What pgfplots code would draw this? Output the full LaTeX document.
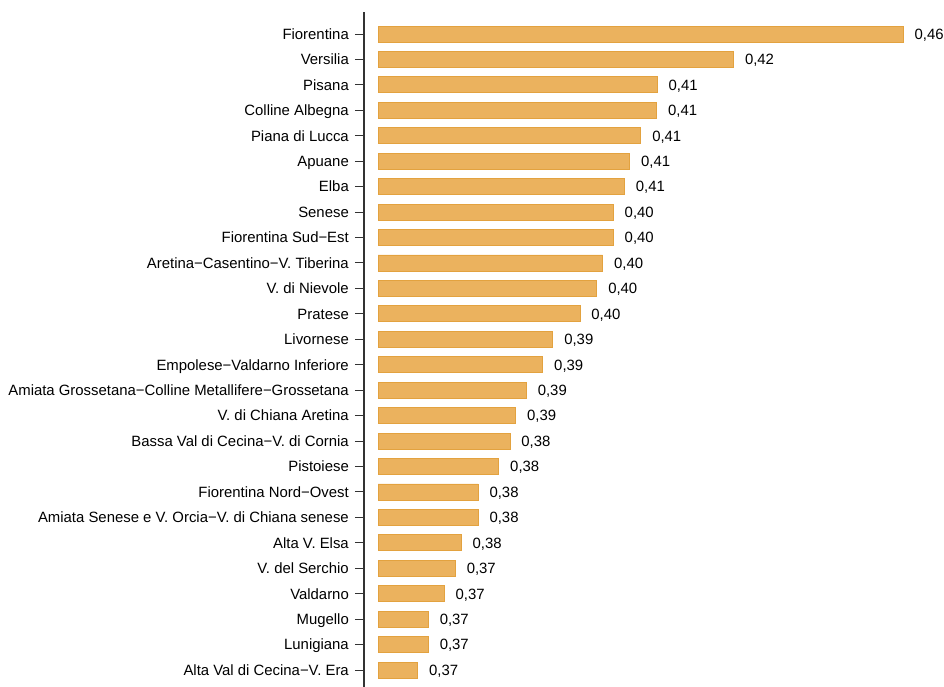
\documentclass[border=0pt]{standalone}
\usepackage{fontspec}
\setmainfont{Liberation Sans}
\usepackage{pgfplots}
\usepackage{pgfplotstable}
\pgfplotsset{compat=1.18}
\definecolor{barfill}{HTML}{EBB25E}
\definecolor{bardraw}{HTML}{E3A23F}
\pgfplotstableread{
idx val lab
0 0.4591 0,46
1 0.4271 0,42
2 0.4127 0,41
3 0.4126 0,41
4 0.4096 0,41
5 0.4075 0,41
6 0.4065 0,41
7 0.4044 0,40
8 0.4044 0,40
9 0.4024 0,40
10 0.4013 0,40
11 0.3981 0,40
12 0.3930 0,39
13 0.3911 0,39
14 0.3880 0,39
15 0.3860 0,39
16 0.3849 0,38
17 0.3828 0,38
18 0.3789 0,38
19 0.3789 0,38
20 0.3757 0,38
21 0.3746 0,37
22 0.3725 0,37
23 0.3695 0,37
24 0.3695 0,37
25 0.3675 0,37
}\data
\begin{document}
\begin{tikzpicture}
\useasboundingbox (0,0) rectangle (944bp,687bp);
\begin{axis}[
 at={(364bp,0bp)}, anchor=south west,
 scale only axis, width=539bp, height=675bp,
 xmin=-0.002642, xmax=0.09906,
 ymin=-0.865, ymax=25.668, y dir=reverse,
 axis x line=none, axis y line=left,
 axis line style={-, line width=1.1bp, color=black!80},
 ytick={0,...,25},
 yticklabels={Fiorentina,Versilia,Pisana,Colline Albegna,Piana di Lucca,Apuane,Elba,Senese,Fiorentina Sud−Est,Aretina−Casentino−V. Tiberina,V. di Nievole,Pratese,Livornese,Empolese−Valdarno Inferiore,Amiata Grossetana−Colline Metallifere−Grossetana,V. di Chiana Aretina,Bassa Val di Cecina−V. di Cornia,Pistoiese,Fiorentina Nord−Ovest,Amiata Senese e V. Orcia−V. di Chiana senese,Alta V. Elsa,V. del Serchio,Valdarno,Mugello,Lunigiana,Alta Val di Cecina−V. Era},
 tick align=outside, major tick length=9bp,
 tick style={line width=1bp, color=black!80},
 yticklabel style={font=\fontsize{14.9bp}{17bp}\selectfont, inner xsep=6bp, inner ysep=0pt, text height=10.7bp, text depth=0pt, text=black},
 xbar, bar width=16bp,
 nodes near coords, point meta=explicit symbolic,
 every node near coord/.append style={font=\fontsize{14.9bp}{17bp}\selectfont, inner xsep=11bp, inner ysep=0pt, text height=10.7bp, text depth=0pt, anchor=west, text=black},
 clip=false,
]
\addplot[fill=barfill, draw=bardraw, line width=0.8bp] table[x expr=\thisrow{val}-0.36, y=idx, meta=lab]{\data};
\end{axis}
\end{tikzpicture}
\end{document}
